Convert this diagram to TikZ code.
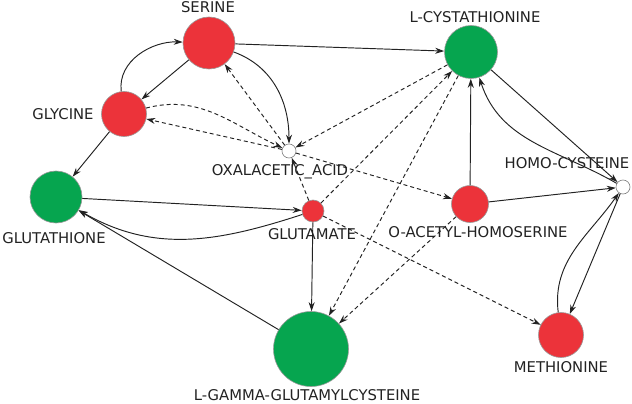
\documentclass[tikz,border=0pt]{standalone}
\usepackage{fontspec}
\setmainfont{DejaVu Sans}
\usetikzlibrary{arrows.meta}
\definecolor{nred}{RGB}{236,51,58}
\definecolor{ngreen}{RGB}{6,165,79}
\definecolor{ink}{RGB}{34,34,34}
\begin{document}
\begin{tikzpicture}[x=1pt,y=1pt,
  met/.style={circle,inner sep=0pt,draw=black!40,line width=0.6pt},
  redn/.style={met,fill=nred},
  greenn/.style={met,fill=ngreen},
  whiten/.style={met,fill=white,draw=black!50},
  lab/.style={inner sep=0pt,text=ink,font=\fontsize{14.8}{16}\selectfont},
  edge/.style={draw=ink,line width=0.95pt,-{Stealth[length=9pt,width=6pt]}},
  dsh/.style={edge,dash pattern=on 4pt off 3pt}
]
\useasboundingbox (0,0) rectangle (632,-404);
% nodes
\node[redn,minimum size=52pt] (ser) at (209,-43) {};
\node[redn,minimum size=45pt] (gly) at (124,-114) {};
\node[greenn,minimum size=52pt] (gsh) at (56,-197) {};
\node[greenn,minimum size=53pt] (cys) at (471,-52) {};
\node[whiten,minimum size=14pt] (oxa) at (289,-151) {};
\node[whiten,minimum size=14pt] (hcy) at (623,-187) {};
\node[redn,minimum size=37pt] (oah) at (470,-204) {};
\node[redn,minimum size=22pt] (glu) at (313,-211) {};
\node[greenn,minimum size=75pt] (ggc) at (311,-349) {};
\node[redn,minimum size=45pt] (met) at (561,-335) {};
% solid edges
\draw[edge] (gly) to[out=97,in=178] (ser);
\draw[edge] (ser) -- (gly);
\draw[edge] (ser) -- (cys);
\draw[edge] (ser) to[out=-20,in=90] (oxa);
\draw[edge] (gly) -- (gsh);
\draw[edge] (gsh) -- (glu);
\draw[edge] (glu) to[out=198,in=-30] (gsh);
\draw[edge] (glu) -- (ggc);
\draw[edge] (ggc) -- (gsh);
\draw[edge] (oah) -- (cys);
\draw[edge] (oah) -- (hcy);
\draw[edge] (cys) -- (hcy);
\draw[edge] (hcy) to[out=150,in=-72] (cys);
\draw[edge] (hcy) -- (met);
\draw[edge] (met) to[out=97,in=235] (hcy);
% dashed edges
\draw[dsh] (oxa) -- (ser);
\draw[dsh] (oxa) -- (gly);
\draw[dsh] (gly) to[out=15,in=155] (oxa);
\draw[dsh] (cys) -- (oxa);
\draw[dsh] (glu) -- (oxa);
\draw[dsh] (oxa) -- (oah);
\draw[dsh] (glu) -- (cys);
\draw[dsh] (cys) -- (ggc);
\draw[dsh] (oah) -- (ggc);
\draw[dsh] (glu) -- (met);
% labels
\node[lab] (tser) at (208,-7) {SERINE};
\node[lab] (tcys) at (475,-17) {L-CYSTATHIONINE};
\node[lab] (tgly) at (63,-114) {GLYCINE};
\node[lab] (tgsh) at (54,-238) {GLUTATHIONE};
\node[lab] (toxa) at (280,-172) {OXALACETIC\_ACID};
\node[lab] (tglu) at (312,-234) {GLUTAMATE};
\node[lab] (toah) at (478,-232) {O-ACETYL-HOMOSERINE};
\node[lab] (thcy) at (567,-163) {HOMO-CYSTEINE};
\node[lab] (tmet) at (561,-367) {METHIONINE};
\node[lab] (tggc) at (307,-395) {L-GAMMA-GLUTAMYLCYSTEINE};
\end{tikzpicture}
\end{document}
